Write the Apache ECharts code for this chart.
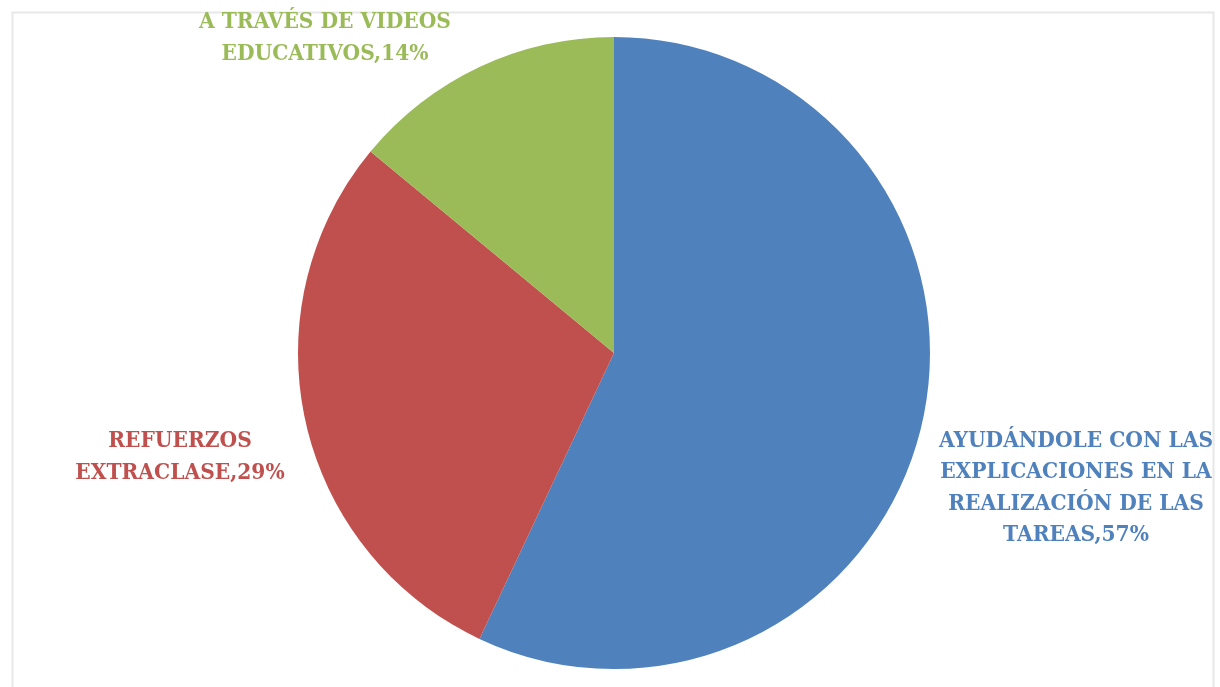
<!DOCTYPE html>
<html>
<head>
<meta charset="utf-8">
<title>Apoyo en casa</title>
<script src="https://cdn.jsdelivr.net/npm/echarts@6/dist/echarts.min.js"></script>
<style>
  html, body { margin: 0; padding: 0; background: #ffffff; }
  #chart { width: 1220px; height: 687px; }
</style>
</head>
<body>
<div id="chart"></div>
<script>
// Categories and their shares (percent)
const categories = [
  'AYUDÁNDOLE CON LAS\nEXPLICACIONES EN LA\nREALIZACIÓN DE LAS\nTAREAS',
  'REFUERZOS\nEXTRACLASE',
  'A TRAVÉS DE VIDEOS\nEDUCATIVOS'
];
const shares = [57, 29, 14];
const sliceColors = ['#4F81BD', '#C0504D', '#9BBB59'];

// Where each data label sits (centre of the text block)
const labelSpots = [
  [1076, 488],
  [180, 457],
  [325, 38]
];

const chart = echarts.init(document.getElementById('chart'), null, { renderer: 'canvas' });

chart.setOption({
  backgroundColor: '#ffffff',
  animation: false,
  graphic: [{
    type: 'rect',
    shape: { x: 12.5, y: 12.5, width: 1201, height: 690 },
    style: { fill: 'none', stroke: '#e8e8e8', lineWidth: 2 },
    silent: true,
    z: -1
  }],
  series: [{
    type: 'pie',
    center: [614, 353],
    radius: 316,
    startAngle: 90,
    clockwise: true,
    avoidLabelOverlap: false,
    itemStyle: { borderWidth: 0 },
    emphasis: { disabled: true },
    labelLine: { show: false },
    label: {
      show: true,
      position: 'outside',
      formatter: p => p.name + ',' + p.value + '%',
      fontFamily: '"DejaVu Serif Condensed", "DejaVu Serif", serif',
      fontWeight: 'bold',
      fontSize: 22.5,
      lineHeight: 31.5,
      align: 'center'
    },
    labelLayout: params => {
      const spot = labelSpots[params.dataIndex];
      return { x: spot[0], y: spot[1], align: 'center', verticalAlign: 'middle' };
    },
    data: categories.map((name, i) => ({
      name: name,
      value: shares[i],
      itemStyle: { color: sliceColors[i] },
      label: { color: sliceColors[i] }
    }))
  }]
});
</script>
</body>
</html>
